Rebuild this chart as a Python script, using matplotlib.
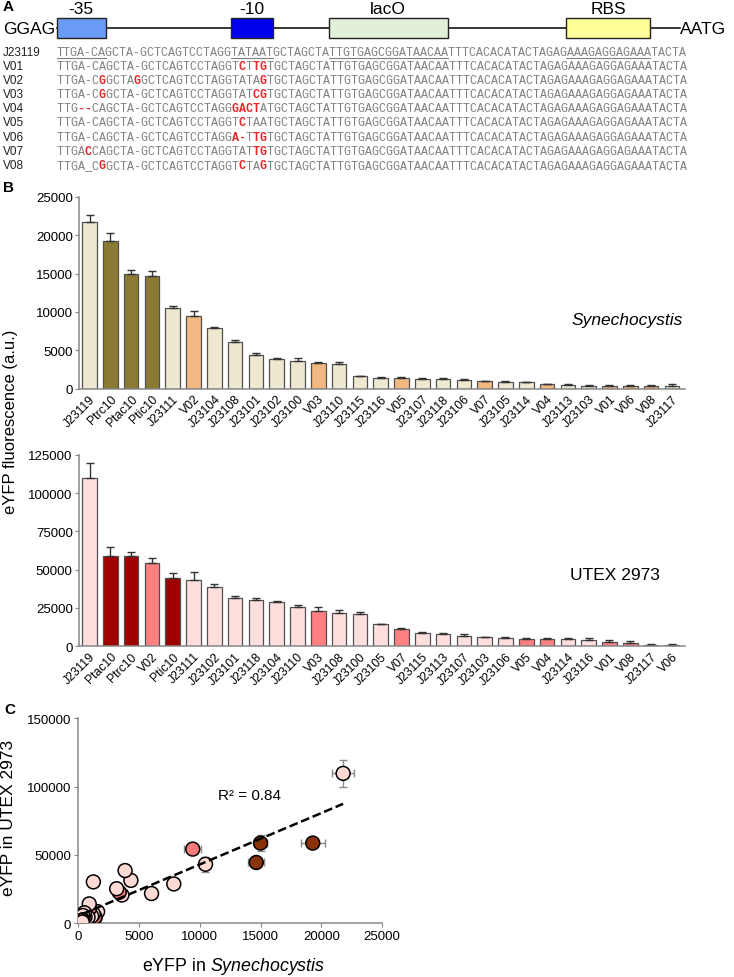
import numpy as np
import matplotlib.pyplot as plt

plt.rcParams['font.family'] = ['Liberation Sans', 'DejaVu Sans']
plt.rcParams['mathtext.fontset'] = 'custom'
plt.rcParams['mathtext.it'] = 'Liberation Sans:italic'
plt.rcParams['mathtext.rm'] = 'Liberation Sans'

# ---------------- panel A data ----------------
seq_names = ['J23119', 'V01', 'V02', 'V03', 'V04', 'V05', 'V06', 'V07', 'V08']
tail = 'GCTAGCTATTGTGAGCGGATAACAATTTCACACATACTAGAGAAAGAGGAGAAATACTA'
seqs = [
    'TTGA-CAGCTA-GCTCAGTCCTAGG' + 'TATAAT' + tail,
    'TTGA-CAGCTA-GCTCAGTCCTAGG' + 'TCTTGT' + tail,
    'TTGA-CGGCTAGGCTCAGTCCTAGG' + 'TATAGT' + tail,
    'TTGA-CGGCTA-GCTCAGTCCTAGG' + 'TATCGT' + tail,
    'TTG--CAGCTA-GCTCAGTCCTAGG' + 'GACTAT' + tail,
    'TTGA-CAGCTA-GCTCAGTCCTAGG' + 'TCTAAT' + tail,
    'TTGA-CAGCTA-GCTCAGTCCTAGG' + 'A-TTGT' + tail,
    'TTGACCAGCTA-GCTCAGTCCTAGG' + 'TATTGT' + tail,
    'TTGA_CGGCTA-GCTCAGTCCTAGG' + 'TCTAGT' + tail,
]
mutations = [[], [26, 28, 29], [6, 11, 29], [6, 28, 29], [3, 4, 25, 26, 27, 28],
             [26], [25, 26, 28, 29], [4, 28, 29], [6, 26, 29]]
# element name, first char, end char, colour
features = [('-35', 0, 7, '#6A9BF5'), ('-10', 25, 31, '#0000EE'),
            ('lacO', 39, 56, '#E2F0D9'), ('RBS', 73, 85, '#FFFF99')]

# ---------------- panel B data ----------------
syn_names = ['J23119', 'Ptrc10', 'Ptac10', 'Ptic10', 'J23111', 'V02', 'J23104', 'J23108',
             'J23101', 'J23102', 'J23100', 'V03', 'J23110', 'J23115', 'J23116', 'V05',
             'J23107', 'J23118', 'J23106', 'V07', 'J23105', 'J23114', 'V04', 'J23113',
             'J23103', 'V01', 'V06', 'V08', 'J23117']
syn_vals = [21800, 19300, 15000, 14650, 10470, 9420, 7860, 6030, 4330, 3850, 3590, 3370,
            3160, 1590, 1370, 1370, 1240, 1240, 1100, 940, 900, 800, 550, 500, 380, 380,
            330, 330, 330]
syn_err = [900, 1000, 500, 650, 350, 700, 130, 340, 300, 100, 350, 100, 250, 80, 100, 100,
           80, 80, 80, 80, 80, 80, 80, 60, 60, 120, 150, 150, 200]

utex_names = ['J23119', 'Ptac10', 'Ptrc10', 'V02', 'Ptic10', 'J23111', 'J23102', 'J23101',
              'J23118', 'J23104', 'J23110', 'V03', 'J23108', 'J23100', 'J23105', 'V07',
              'J23115', 'J23113', 'J23107', 'J23103', 'J23106', 'V05', 'V04', 'J23114',
              'J23116', 'V01', 'V08', 'J23117', 'V06']
utex_vals = [109700, 58700, 58700, 54300, 44500, 43200, 38600, 31400, 30300, 28800, 25300,
             22700, 21800, 20700, 14200, 10900, 8500, 7700, 6800, 5700, 5200, 4600, 4600,
             4400, 3900, 2600, 2200, 900, 500]
utex_err = [9900, 5900, 2800, 3500, 3100, 5400, 1800, 1300, 1000, 800, 1500, 2800, 1600,
            1300, 500, 800, 800, 600, 1100, 300, 400, 900, 700, 600, 1400, 1100, 800, 600, 800]

syn_colors = {'J': '#EDE8CF', 'P': '#8B7A34', 'V': '#F2B882'}
utex_colors = {'J': '#FFDEDE', 'P': '#A00000', 'V': '#FF8080'}
scatter_colors = {'J': '#FFD9D4', 'P': '#8A3208', 'V': '#F77B7B'}

W, H = 734, 978
fig = plt.figure(figsize=(W / 100, H / 100), dpi=100)


def px_axes(l, t, r, b):
    return fig.add_axes([l / W, 1 - b / H, (r - l) / W, (b - t) / H])


# ---------------- panel A ----------------
ax_a = fig.add_axes([0, 0, 1, 1])
ax_a.set_xlim(0, W)
ax_a.set_ylim(H, 0)
ax_a.axis('off')

x0 = 56.7
cw = (685 - x0) / 90
line_y = 29
ax_a.plot([x0, 680], [line_y, line_y], color='black', lw=1.1, zorder=1)
for name, s, e, col in features:
    ax_a.add_patch(plt.Rectangle((x0 + s * cw, 19), (e - s) * cw, 20, facecolor=col,
                                 edgecolor='#222', lw=1, zorder=2))
    ax_a.text(x0 + (s + e) / 2 * cw, 9.5, name, ha='center', va='center', fontsize=12.5)
ax_a.text(3, 30, 'GGAG', ha='left', va='center', fontsize=12.5)
ax_a.text(680, 30, 'AATG', ha='left', va='center', fontsize=12.5)
ax_a.text(3, 7, 'A', fontweight='bold', fontsize=11, ha='left', va='center')

row0, row_step = 52.7, 14.16
for i, (nm, sq, mut) in enumerate(zip(seq_names, seqs, mutations)):
    y = row0 + i * row_step
    ax_a.text(3, y, nm, ha='left', va='center', fontsize=8.5, color='#222')
    gray = ''.join(' ' if k in mut else c for k, c in enumerate(sq))
    red = ''.join(c if k in mut else ' ' for k, c in enumerate(sq))
    ax_a.text(x0, y, gray, ha='left', va='center', family='Liberation Mono',
              fontsize=8.37, color='#808080')
    if mut:
        ax_a.text(x0, y, red, ha='left', va='center', family='Liberation Mono',
                  fontsize=8.37, color='#E8262A', fontweight='bold')
    if i == 0:
        for _, s, e, _ in features:
            ax_a.plot([x0 + s * cw, x0 + e * cw], [y + 6.5, y + 6.5], color='#808080', lw=0.8)

ax_a.text(3, 188, 'B', fontweight='bold', fontsize=11, ha='left', va='center')
ax_a.text(4, 710, 'C', fontweight='bold', fontsize=11, ha='left', va='center')


# ---------------- panel B ----------------
def bar_panel(ax, names, vals, errs, cmap, ymax, step):
    x = np.arange(len(names))
    cols = [cmap[n[0]] for n in names]
    ax.bar(x, vals, width=0.7, color=cols, edgecolor='#505050', linewidth=0.9,
           yerr=[np.zeros(len(errs)), errs],
           error_kw=dict(ecolor='#333333', elinewidth=1, capsize=3.2, capthick=1))
    ax.set_xlim(-0.505, 28.63)
    ax.set_ylim(0, ymax)
    ax.set_yticks(np.arange(0, ymax + 1, step))
    ax.set_xticks(x)
    ax.set_xticklabels(names, rotation=45, ha='right', rotation_mode='anchor', fontsize=8.8)
    ax.tick_params(axis='x', length=0, pad=3)
    ax.tick_params(axis='y', length=3, color='#888888', labelsize=9.5, pad=1.5)
    for sp in ['top', 'right']:
        ax.spines[sp].set_visible(False)
    for sp in ['left', 'bottom']:
        ax.spines[sp].set_color('#888888')
        ax.spines[sp].set_linewidth(1.1)
    ax.patch.set_alpha(0)
    return ax


ax_b1 = px_axes(79, 198, 685, 389.5)
bar_panel(ax_b1, syn_names, syn_vals, syn_err, syn_colors, 25000, 5000)
ax_b1.text(627, 321, 'Synechocystis', transform=ax_a.transData, ha='center', va='center',
           fontsize=12.5, style='italic')

ax_b2 = px_axes(79, 456, 685, 647)
bar_panel(ax_b2, utex_names, utex_vals, utex_err, utex_colors, 125000, 25000)
ax_b2.text(615, 575, 'UTEX 2973', transform=ax_a.transData, ha='center', va='center',
           fontsize=12.5)

fig.text(11 / W, 1 - 422 / H, 'eYFP fluorescence (a.u.)', rotation=90, ha='center',
         va='center', fontsize=12)

# ---------------- panel C ----------------
syn_map = dict(zip(syn_names, zip(syn_vals, syn_err)))
utex_map = dict(zip(utex_names, zip(utex_vals, utex_err)))
sx = np.array([syn_map[n][0] for n in syn_names], dtype=float)
sxe = np.array([syn_map[n][1] for n in syn_names], dtype=float)
uy = np.array([utex_map[n][0] for n in syn_names], dtype=float)
uye = np.array([utex_map[n][1] for n in syn_names], dtype=float)
pcols = [scatter_colors[n[0]] for n in syn_names]

ax_c = px_axes(78.3, 719.3, 382, 924.3)
ax_c.errorbar(sx, uy, xerr=sxe, yerr=uye, fmt='none', ecolor='#8a8a8a', elinewidth=1,
              capsize=3, zorder=1)
ax_c.scatter(sx, uy, s=100, c=pcols, edgecolors='black', linewidths=1.1, zorder=3)
coef = np.polyfit(sx, uy, 1)
xs = np.array([sx.min(), sx.max()])
ax_c.plot(xs, np.polyval(coef, xs), color='black', lw=1.8, ls=(0, (3.5, 1.5)), zorder=4)
ax_c.text(250, 796, 'R² = 0.84', transform=ax_a.transData, ha='center', va='center',
          fontsize=11)
ax_c.set_xlim(0, 25000)
ax_c.set_ylim(0, 150000)
ax_c.set_xticks(np.arange(0, 25001, 5000))
ax_c.set_yticks(np.arange(0, 150001, 50000))
ax_c.tick_params(length=3, color='#888888', labelsize=9.5, pad=2)
for sp in ['top', 'right']:
    ax_c.spines[sp].set_visible(False)
for sp in ['left', 'bottom']:
    ax_c.spines[sp].set_color('#888888')
    ax_c.spines[sp].set_linewidth(1.1)
ax_c.patch.set_alpha(0)

fig.text(234 / W, 1 - 967 / H, r'eYFP in $\mathit{Synechocystis}$', ha='center',
         va='center', fontsize=12.8)
fig.text(9 / W, 1 - 818 / H, 'eYFP in UTEX 2973', rotation=90, ha='center', va='center',
         fontsize=12.5)

fig.savefig('out.png', dpi=100)
